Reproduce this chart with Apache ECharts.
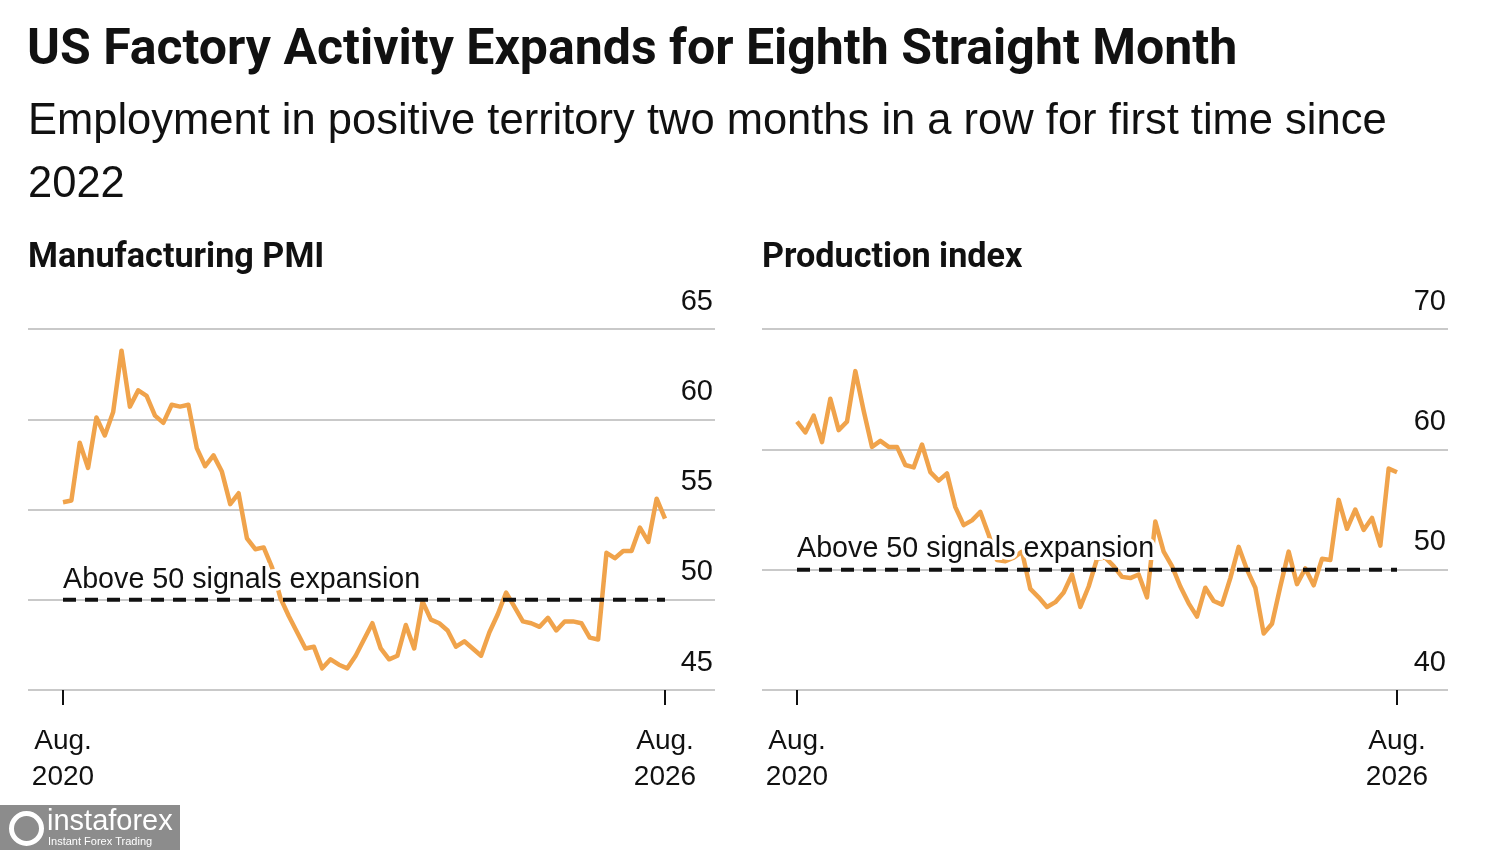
<!DOCTYPE html>
<html>
<head>
<meta charset="utf-8">
<title>US Factory Activity Expands for Eighth Straight Month</title>
<script src="https://cdn.jsdelivr.net/npm/echarts@6/dist/echarts.min.js"></script>
<style>
  html, body { margin: 0; padding: 0; background: #fff; }
  #chart { width: 1500px; height: 850px; }
</style>
</head>
<body>
<div id="chart"></div>
<script>
// monthly readings, Aug. 2020 .. Aug. 2026 (73 months)
var tickLabels = ['Aug.\n2020', 'Aug.\n2026'];

var pmi = [
  55.4, 55.5, 58.7, 57.3, 60.1, 59.1, 60.4, 63.8, 60.7, 61.6, 61.3, 60.2,
  59.8, 60.8, 60.7, 60.8, 58.4, 57.4, 58.0, 57.1, 55.3, 55.9, 53.4, 52.8,
  52.9, 51.8, 50.1, 49.1, 48.2, 47.3, 47.4, 46.2, 46.7, 46.4, 46.2, 46.9,
  47.8, 48.7, 47.3, 46.7, 46.9, 48.6, 47.3, 49.9, 48.9, 48.7, 48.3, 47.4,
  47.7, 47.3, 46.9, 48.2, 49.2, 50.4, 49.6, 48.8, 48.7, 48.5, 49.0, 48.3,
  48.8, 48.8, 48.7, 47.9, 47.8, 52.6, 52.3, 52.7, 52.7, 54.0, 53.2, 55.6,
  54.5
];

var production = [
  62.3, 61.4, 62.8, 60.6, 64.2, 61.6, 62.3, 66.5, 63.2, 60.2, 60.7, 60.2,
  60.2, 58.7, 58.5, 60.4, 58.1, 57.4, 58.0, 55.2, 53.7, 54.1, 54.8, 52.9,
  50.8, 50.7, 51.0, 51.5, 48.4, 47.7, 46.9, 47.3, 48.1, 49.6, 46.9, 48.6,
  50.9, 51.0, 50.3, 49.4, 49.3, 49.6, 47.7, 54.0, 51.5, 50.3, 48.6, 47.2,
  46.1, 48.5, 47.4, 47.1, 49.3, 51.9, 50.0, 48.5, 44.7, 45.5, 48.6, 51.5,
  48.8, 50.1, 48.7, 50.9, 50.8, 55.8, 53.4, 55.0, 53.3, 54.3, 52.0, 58.4,
  58.1
];

var threshold = 50;
var note = 'Above 50 signals expansion';

var FONT = '"Liberation Sans", Arial, sans-serif';
var HEAD = 'Roboto, "Liberation Sans", sans-serif';
var ORANGE = '#F0A34B';
var INK = '#111';
var GRID = '#c9c9c9';

var last = pmi.length - 1;

function pairs(values) {
  return values.map(function (v, i) { return [i, v]; });
}

function xAxisFor(grid, min, max) {
  return {
    type: 'value', gridIndex: grid, min: min, max: max,
    splitLine: { show: false },
    axisLine: { show: false },
    axisTick: {
      show: true, customValues: [0, last], length: 15,
      lineStyle: { color: INK, width: 2 }
    },
    axisLabel: {
      customValues: [0, last],
      formatter: function (v) { return v === 0 ? tickLabels[0] : tickLabels[1]; },
      fontFamily: FONT, fontSize: 28, lineHeight: 36, color: INK, margin: 33
    }
  };
}

function yAxisFor(grid, min, max, step) {
  return {
    type: 'value', gridIndex: grid, position: 'right',
    min: min, max: max, interval: step,
    axisLine: { show: false },
    axisTick: { show: false },
    splitLine: { show: true, lineStyle: { color: GRID, width: 2 } },
    axisLabel: {
      inside: true, margin: 2, verticalAlign: 'bottom',
      fontFamily: FONT, fontSize: 29, lineHeight: 29, color: INK,
      padding: [0, 0, 13, 0]
    }
  };
}

function panelSeries(idx, values) {
  return [{
    type: 'line', xAxisIndex: idx, yAxisIndex: idx,
    data: pairs(values),
    showSymbol: false, z: 2,
    lineStyle: { color: ORANGE, width: 4.5, join: 'round' }
  }, {
    type: 'line', xAxisIndex: idx, yAxisIndex: idx,
    data: [[0, threshold], [last, threshold]],
    showSymbol: false, z: 3,
    lineStyle: { color: INK, width: 4, type: [13, 9] }
  }];
}

function panelTitle(text, x) {
  return {
    text: text, left: x, top: 241, padding: 0,
    textStyle: { fontFamily: HEAD, fontWeight: 'bold', fontSize: 34.2, color: INK }
  };
}

function noteText(x, y) {
  return {
    type: 'text', left: x, top: y, z: 50,
    style: {
      text: note, font: '28.7px ' + FONT, fill: INK,
      stroke: '#fff', lineWidth: 6
    }
  };
}

var chart = echarts.init(document.getElementById('chart'));

chart.setOption({
  animation: false,
  backgroundColor: '#fff',
  title: [{
    text: 'US Factory Activity Expands for Eighth Straight Month',
    left: 27, top: 26, padding: 0,
    textStyle: { fontFamily: HEAD, fontWeight: 'bold', fontSize: 50, color: INK }
  }, {
    text: 'Employment in positive territory two months in a row for first time since\n2022',
    left: 28, top: 90, padding: 0,
    textStyle: { fontFamily: FONT, fontWeight: 'normal', fontSize: 43.5, lineHeight: 63, color: INK }
  },
    panelTitle('Manufacturing PMI', 28),
    panelTitle('Production index', 762)
  ],
  grid: [
    { left: 28, right: 785, top: 329, bottom: 160 },
    { left: 762, right: 52, top: 329, bottom: 160 }
  ],
  xAxis: [
    xAxisFor(0, -4.186, 77.98),
    xAxisFor(1, -4.2, 78.12)
  ],
  yAxis: [
    yAxisFor(0, 45, 65, 5),
    yAxisFor(1, 40, 70, 10)
  ],
  series: panelSeries(0, pmi).concat(panelSeries(1, production)),
  graphic: [
    noteText(60, 563),
    noteText(794, 532),
    {
      type: 'rect', left: 0, top: 805, z: 60,
      shape: { width: 180, height: 45 },
      style: { fill: '#8c8c8c' }
    },
    {
      type: 'circle', left: 9, top: 811, z: 61,
      shape: { r: 15 },
      style: { fill: 'none', stroke: '#fff', lineWidth: 5 }
    },
    {
      type: 'text', left: 47, top: 807, z: 61,
      style: { text: 'instaforex', font: '29px ' + FONT, fill: '#fff' }
    },
    {
      type: 'text', left: 48, top: 836, z: 61,
      style: { text: 'Instant Forex Trading', font: '11px ' + FONT, fill: '#fff' }
    }
  ]
});
</script>
</body>
</html>
